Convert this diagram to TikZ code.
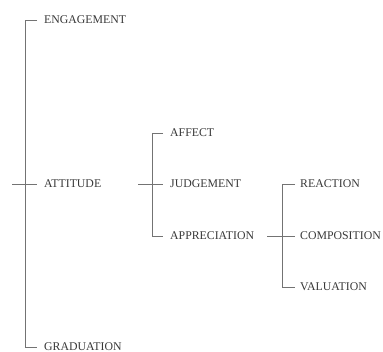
\documentclass[tikz,border=0pt]{standalone}
\usepackage{fontspec}
\setmainfont{Liberation Serif}
\begin{document}
\begin{tikzpicture}[x=1pt,y=-1pt,
  lbl/.style={anchor=west,inner sep=0pt,text height=7.7pt,text depth=0pt,
    font=\fontsize{11.8}{13}\selectfont,text=black!78},
  ln/.style={draw=black!55,line width=0.9pt}]
\useasboundingbox (0,0) rectangle (383,352);
% level 1
\node[lbl] (eng) at (44,20) {ENGAGEMENT};
\node[lbl] (att) at (44,184) {ATTITUDE};
\node[lbl] (grad) at (44,347) {GRADUATION};
% level 2
\node[lbl] (aff) at (170,133) {AFFECT};
\node[lbl] (jud) at (170,184) {JUDGEMENT};
\node[lbl] (app) at (170,236) {APPRECIATION};
% level 3
\node[lbl] (rea) at (300,184) {REACTION};
\node[lbl] (com) at (300,236) {COMPOSITION};
\node[lbl] (val) at (300,287) {VALUATION};
% bracket 1
\coordinate (s1) at (12,184);
\draw[ln] ([xshift=-7pt]eng.west) -- (25,20) -- (25,347) -- ([xshift=-7pt]grad.west);
\draw[ln] (s1) -- ([xshift=-7pt]att.west);
% bracket 2
\coordinate (s2) at (138,184);
\draw[ln] ([xshift=-7pt]aff.west) -- (152,133) -- (152,236) -- ([xshift=-7pt]app.west);
\draw[ln] (s2) -- ([xshift=-7pt]jud.west);
% bracket 3
\coordinate (s3) at (267,236);
\draw[ln] ([xshift=-5pt]rea.west) -- (282,184) -- (282,287) -- ([xshift=-5pt]val.west);
\draw[ln] (s3) -- ([xshift=-5pt]com.west);
\end{tikzpicture}
\end{document}
